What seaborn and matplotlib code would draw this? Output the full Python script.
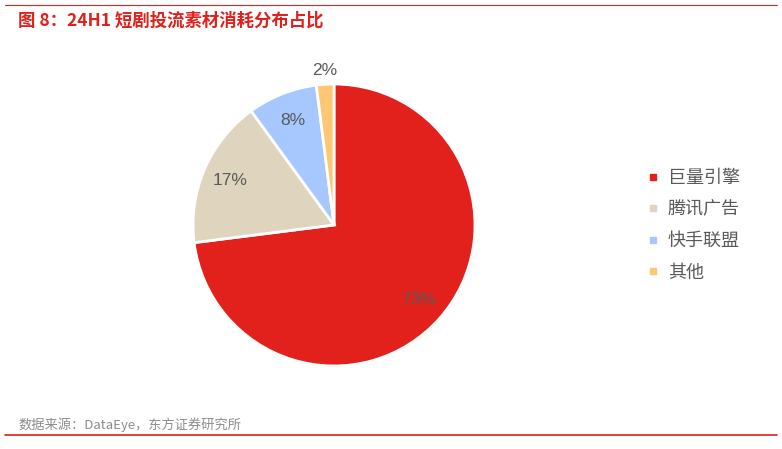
import numpy as np
import matplotlib.pyplot as plt
import matplotlib.lines as mlines
import seaborn as sns

# data
platforms = ['巨量引擎', '腾讯广告', '快手联盟', '其他']
shares = [73, 17, 8, 2]
colors = ['#E2211C', '#DFD5BE', '#A6C8FF', '#FFC773']

title = '图 8：24H1 短剧投流素材消耗分布占比'
source = '数据来源：DataEye，东方证券研究所'

sns.set_theme(style='white')
plt.rcParams['font.family'] = ['Noto Sans CJK SC', 'DejaVu Sans']

fig = plt.figure(figsize=(7.82, 4.49), dpi=100)
ax = fig.add_axes([0.2468, 0.1849, 0.3606, 0.628])

palette = sns.color_palette(colors)
wedges, texts, autotexts = ax.pie(
    shares, colors=palette, startangle=90, counterclock=False,
    autopct='%d%%', pctdistance=0.8,
    wedgeprops=dict(edgecolor='white', linewidth=2),
    textprops=dict(color='#595959', fontsize=12.5, family=['Liberation Sans', 'DejaVu Sans']))
ax.set_aspect('auto')
ax.set_xlim(-1, 1)
ax.set_ylim(-1, 1)

# small slice label goes outside
for w, t in zip(wedges, autotexts):
    if w.theta2 - w.theta1 < 10:
        ang = np.deg2rad((w.theta1 + w.theta2) / 2)
        t.set_position((1.1 * np.cos(ang), 1.1 * np.sin(ang)))

handles = [mlines.Line2D([], [], marker='s', linestyle='none', markersize=5,
                         color=c) for c in colors]
fig.legend(handles, platforms, loc='center left', bbox_to_anchor=(0.817, 0.498),
           frameon=False, fontsize=13, labelcolor='#595959', handlelength=0.6,
           handletextpad=0.5, labelspacing=0.75, borderpad=0)

fig.text(0.023, 0.955, title, color='#E0201C', fontsize=12.5, fontweight='semibold',
         va='center', ha='left')
fig.text(0.023, 0.053, source, color='#8C8C8C', fontsize=9.5, va='center', ha='left')

fig.add_artist(mlines.Line2D([0.006, 0.994], [0.989, 0.989], color='#E0201C', linewidth=0.8))
fig.add_artist(mlines.Line2D([0.006, 0.994], [0.031, 0.031], color='#E0201C', linewidth=1.2))

fig.savefig('out.png', dpi=100)
